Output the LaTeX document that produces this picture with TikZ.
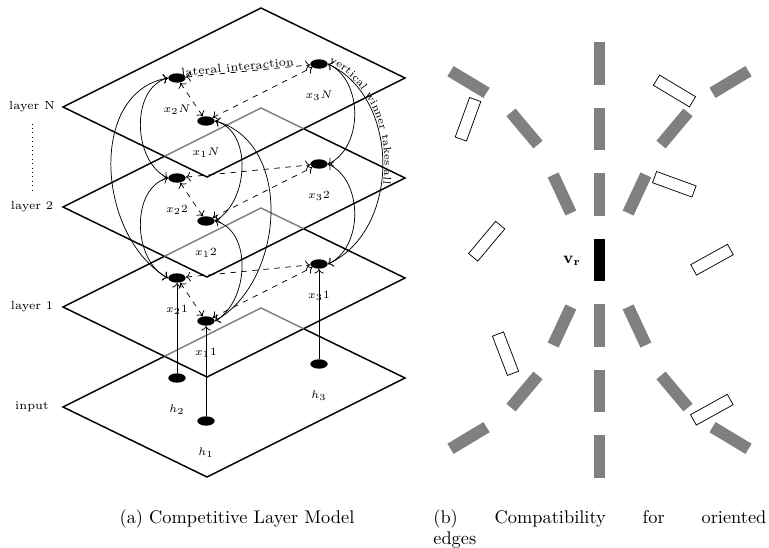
\documentclass[tikz,border=0pt]{standalone}
\usepackage{amsmath,amssymb}
\usepackage{tikz}
\usetikzlibrary{arrows.meta, positioning, calc, shapes.geometric, decorations.text}
\definecolor{bargray}{RGB}{128,128,128}
\definecolor{backline}{RGB}{128,128,128}
\newcommand{\labelsize}{\fontsize{6.4}{7.5}\selectfont}

\begin{document}
\begin{tikzpicture}[x=0.545pt, y=0.545pt,
  plane/.style={thick},
  hidden/.style={thick, backline},
  unit/.style={ellipse, fill=black, minimum width=9.5pt, minimum height=5.1pt, inner sep=0pt},
  lbl/.style={font=\labelsize, inner sep=1pt},
  lat/.style={dashed, <->},
  wta/.style={<->},
  feed/.style={->},
  gbar/.style={rectangle, fill=bargray, minimum width=6.5pt, minimum height=22.9pt, inner sep=0pt},
  obar/.style={rectangle, draw=black, fill=white, minimum width=6.5pt, minimum height=22.9pt, inner sep=0pt},
  rbar/.style={rectangle, fill=black, minimum width=6.5pt, minimum height=22.9pt, inner sep=0pt}]
  \useasboundingbox (0,0) rectangle (769,-548);
  % Layer planes
  \foreach \lay/\yy in {N/107, 2/207, 1/307, 0/407} {
    \coordinate (pL\lay) at (63,-\yy);
    \coordinate (pB\lay) at (207,-\yy-70);
    \coordinate (pR\lay) at (405,-\yy+29);
    \coordinate (pT\lay) at (261,-\yy+99);
  }
  \draw[plane] (pLN) -- (pBN) -- (pRN) -- (pTN) -- cycle;
  \foreach \lo/\hi in {2/N, 1/2, 0/1} {
    \coordinate (pA\lo) at (intersection cs: first line={(pL\lo)--(pT\lo)}, second line={(pL\hi)--(pB\hi)});
    \coordinate (pC\lo) at (intersection cs: first line={(pT\lo)--(pR\lo)}, second line={(pB\hi)--(pR\hi)});
    \draw[plane] (pA\lo) -- (pL\lo) -- (pB\lo) -- (pR\lo) -- (pC\lo);
    \draw[hidden] (pA\lo) -- (pT\lo) -- (pC\lo);
  }
  \foreach \lay/\yy/\txt in {N/107/layer N, 2/207/layer 2, 1/307/layer 1, 0/407/input}
    \node[lbl] (t\lay) at (32,-\yy) {\txt};
  \draw[dotted, shorten <=5pt, shorten >=3pt] (tN) -- (t2);
  % Units
  \foreach \lay/\yy in {N/107, 2/207, 1/307} {
    \node[unit] (x2\lay) at (177,-\yy+29) {};
    \node[unit] (x1\lay) at (206,-\yy-14) {};
    \node[unit] (x3\lay) at (319,-\yy+43) {};
    \node[lbl] (lx2\lay) at (177,-\yy-3) {$x_2\lay$};
    \node[lbl] (lx1\lay) at (206,-\yy-46) {$x_1\lay$};
    \node[lbl] (lx3\lay) at (319,-\yy+11) {$x_3\lay$};
  }
  \node[unit] (h2) at (177,-378) {};
  \node[unit] (h1) at (206,-421) {};
  \node[unit] (h3) at (319,-364) {};
  \node[lbl] (lh2) at (177,-410) {$h_2$};
  \node[lbl] (lh1) at (206,-453) {$h_1$};
  \node[lbl] (lh3) at (319,-396) {$h_3$};
  % Input
  \draw[feed] (h2) -- (x21);
  \draw[feed] (h1) -- (x11);
  \draw[feed] (h3) -- (x31);
  % Lateral interaction
  \foreach \lay in {N,2,1} {
    \draw[lat] (x2\lay) -- (x1\lay);
    \draw[lat] (x1\lay) -- (x3\lay);
  }
  \draw[lat] (x2N) -- node[pos=0.42, sloped, above, font=\labelsize, inner sep=0.3pt] {lateral interaction} (x3N);
  \draw[lat] (x22) -- (x32);
  \draw[lat] (x21) -- (x31);
  % Vertical winner takes all
  \draw[wta] (x2N.west) to[out=195, in=155] (x22.west);
  \draw[wta] (x22.west) to[out=195, in=155] (x21.west);
  \draw[wta] (x2N.west) to[out=190, in=150, looseness=1.05] (x21.west);
  \draw[wta] (x1N.east) to[out=-15, in=30] (x12.east);
  \draw[wta] (x12.east) to[out=-15, in=30] (x11.east);
  \draw[wta] (x1N.east) to[out=-15, in=30, looseness=1.04] (x11.east);
  \draw[wta] (x3N.east) to[out=-25, in=25] (x32.east);
  \draw[wta] (x32.east) to[out=-25, in=25] (x31.east);
  \draw[wta] (x3N.east) to[out=-25, in=25, looseness=1.03] (x31.east);
  \path[decorate, decoration={text along path, raise=1pt,
      text={|\fontsize{5.9}{7}\selectfont|vertical winner takes all}}]
    (x3N.east) to[out=-25, in=25, looseness=1.03] (x31.east);
  % Compatibility field
  \node[rbar] (vr) at (599.5,-260) {};
  \node[font=\small] (lvr) at (572,-260.5) {$\mathbf{v_r}$};
  \foreach \k in {1,2,3} {
    \node[gbar] (gu\k) at (599.5,{-260+65.5*\k}) {};
    \node[gbar] (gd\k) at (599.5,{-260-65.5*\k}) {};
  }
  \foreach \dx/\dy/\a [count=\k] in {37.5/66/25, 75/131.5/40, 131/178/59} {
    \node[gbar, rotate=\a] (gul\k) at (599.5-\dx,-260+\dy) {};
    \node[gbar, rotate=-\a] (gur\k) at (599.5+\dx,-260+\dy) {};
    \node[gbar, rotate=-\a] (gdl\k) at (599.5-\dx,-260-\dy) {};
    \node[gbar, rotate=\a] (gdr\k) at (599.5+\dx,-260-\dy) {};
  }
  % Incompatible edges
  \foreach \px/\py/\a [count=\k] in {468/119.3/-20, 674.5/91/59, 674.3/184.3/70,
      486.7/241.2/-40, 712/259.7/-61, 505.5/353.7/21, 711.8/409.7/-61}
    \node[obar, rotate=\a] (ob\k) at (\px,-\py) {};
  % Captions
  \node[inner sep=0pt] (capa) at (237,-519) {(a) Competitive Layer Model};
  \node[inner sep=0pt, anchor=north west, align=left] (capb) at (433,-509)
    {\makebox[181.5pt][s]{(b) Compatibility for oriented}\\[-0.5pt]edges};
\end{tikzpicture}
\end{document}
